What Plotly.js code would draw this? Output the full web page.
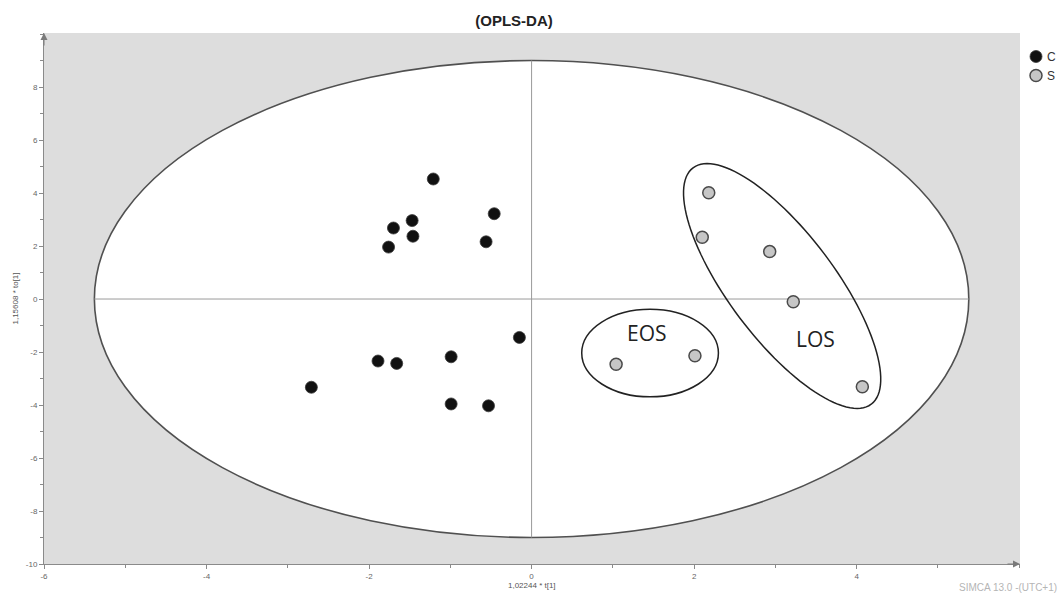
<!DOCTYPE html>
<html><head><meta charset="utf-8">
<script src="https://cdn.plot.ly/plotly-3.0.1.min.js"></script>
<style>html,body{margin:0;padding:0;background:#fff;} #chart{width:1062px;height:594px;}</style>
</head><body><div id="chart"></div>
<script>
// ---- data (scores) ----
const seriesNames = ['C', 'S'];
const classC_t1  = [-1.21, -0.46, -1.47, -1.70, -1.46, -1.76, -0.56, -0.15, -1.89, -1.66, -0.99, -2.71, -0.99, -0.53];
const classC_to1 = [ 4.53,  3.22,  2.96,  2.68,  2.37,  1.96,  2.16, -1.45, -2.34, -2.43, -2.18, -3.33, -3.96, -4.03];
const classS_t1  = [2.18, 2.10, 2.93, 3.22, 4.07, 1.04, 2.01];
const classS_to1 = [4.01, 2.33, 1.79, -0.10, -3.31, -2.46, -2.14];
const xTickVals = [-6, -4, -2, 0, 2, 4];
const yTickVals = [-10, -8, -6, -4, -2, 0, 2, 4, 6, 8];
const groupLabels = ['EOS', 'LOS'];
const hotellingSemiAxes = [5.38, 9.0];   // T2 ellipse (t[1], to[1])

// ---- geometry / styling ----
const X_RANGE = [-6, 6.01], Y_RANGE = [-10, 10.04];
const M = {l: 44, r: 42, t: 33, b: 30};
const W = 1062, H = 594;
const pxX = (W - M.l - M.r) / (X_RANGE[1] - X_RANGE[0]);
const pxY = (H - M.t - M.b) / (Y_RANGE[1] - Y_RANGE[0]);

function ellipsePath(cx, cy, aPx, bPx, angDeg) {
  const th = angDeg * Math.PI / 180, n = 120;
  let d = '';
  for (let i = 0; i <= n; i++) {
    const t = 2 * Math.PI * i / n;
    const u = aPx * Math.cos(t), v = bPx * Math.sin(t);
    const dx = u * Math.cos(th) - v * Math.sin(th);
    const dy = u * Math.sin(th) + v * Math.cos(th);
    const x = cx + dx / pxX, y = cy - dy / pxY;
    d += (i === 0 ? 'M' : 'L') + x.toFixed(4) + ',' + y.toFixed(4);
  }
  return d + 'Z';
}

const [ha, hb] = hotellingSemiAxes;
const shapes = [
  {type: 'circle', xref: 'x', yref: 'y', x0: -ha, x1: ha, y0: -hb, y1: hb,
   fillcolor: '#ffffff', line: {color: '#505050', width: 1.6}, layer: 'below'},
  {type: 'line', xref: 'x', yref: 'y', x0: 0, x1: 0, y0: -hb, y1: hb,
   line: {color: '#9a9a9a', width: 1}, layer: 'below'},
  {type: 'line', xref: 'x', yref: 'y', x0: -ha, x1: ha, y0: 0, y1: 0,
   line: {color: '#9a9a9a', width: 1}, layer: 'below'},
  {type: 'circle', xref: 'x', yref: 'y', x0: 1.458 - 0.841, x1: 1.458 + 0.841, y0: -2.038 - 1.653, y1: -2.038 + 1.653,
   line: {color: '#222', width: 1.5}, layer: 'below'},
  {type: 'path', xref: 'x', yref: 'y', path: ellipsePath(3.083, 0.491, 148, 53, 53),
   line: {color: '#222', width: 1.5}, layer: 'below'}
];

const traces = [
  {x: classC_t1, y: classC_to1, name: seriesNames[0], type: 'scatter', mode: 'markers',
   marker: {size: 12, color: '#111', line: {color: '#3a3a3a', width: 0.8}}, hoverinfo: 'x+y'},
  {x: classS_t1, y: classS_to1, name: seriesNames[1], type: 'scatter', mode: 'markers',
   marker: {size: 12, color: '#c6c6c6', line: {color: '#4a4a4a', width: 1.5}}, hoverinfo: 'x+y'}
];

const axisCommon = {
  showline: true, linecolor: '#8a8a8a', linewidth: 1, showgrid: false, zeroline: false,
  ticks: 'outside', ticklen: 4, tickcolor: '#8a8a8a', tickwidth: 1, automargin: false,
  tickfont: {family: 'Liberation Sans, Arial, sans-serif', size: 8, color: '#666'},
  minor: {dtick: 1, ticks: 'outside', ticklen: 3, tickcolor: '#8a8a8a', showgrid: false},
  fixedrange: true
};

const annFont = {family: 'Liberation Sans, Arial, sans-serif', size: 8, color: '#555'};
const annotations = [
  {text: groupLabels[0], x: 1.415, y: -1.283, xref: 'x', yref: 'y', showarrow: false,
   font: {family: 'Open Sans, sans-serif', size: 21, color: '#222'}},
  {text: groupLabels[1], x: 3.489, y: -1.491, xref: 'x', yref: 'y', showarrow: false,
   font: {family: 'Open Sans, sans-serif', size: 21, color: '#222'}},
  {text: '1,15608 * to[1]', textangle: -90, xref: 'paper', yref: 'paper', x: (15 - M.l) / (W - M.l - M.r), y: 0.5,
   xanchor: 'center', yanchor: 'middle', showarrow: false, font: annFont},
  {text: '1,02244 * t[1]', xref: 'paper', yref: 'paper', x: 0.5, y: -21 / (H - M.t - M.b),
   xanchor: 'center', yanchor: 'middle', showarrow: false, font: annFont},
  {text: 'SIMCA 13.0 -(UTC+1)', xref: 'paper', yref: 'paper', x: (1059 - M.l) / (W - M.l - M.r), y: -23 / (H - M.t - M.b),
   xanchor: 'right', yanchor: 'middle', showarrow: false,
   font: {family: 'Liberation Sans, Arial, sans-serif', size: 10, color: '#b5b5b5'}},
  // axis arrowheads
  {text: '', x: X_RANGE[0], y: Y_RANGE[1], xref: 'x', yref: 'y', showarrow: true, arrowhead: 2, arrowsize: 1.4,
   arrowwidth: 1, arrowcolor: '#7a7a7a', ax: 0, ay: 14, standoff: 0},
  {text: '', x: X_RANGE[1], y: Y_RANGE[0], xref: 'x', yref: 'y', showarrow: true, arrowhead: 2, arrowsize: 1.4,
   arrowwidth: 1, arrowcolor: '#7a7a7a', ax: -14, ay: 0, standoff: 0}
];

const layout = {
  width: W, height: H, autosize: false,
  margin: {l: M.l, r: M.r, t: M.t, b: M.b, pad: 0, autoexpand: false},
  paper_bgcolor: '#ffffff', plot_bgcolor: '#dddddd',
  title: {text: '<b>(OPLS-DA)</b>', x: 514 / W, xanchor: 'center', y: 1 - 21 / H, yanchor: 'middle',
          font: {family: 'Liberation Sans, Arial, sans-serif', size: 15, color: '#222'}},
  xaxis: Object.assign({}, axisCommon, {range: X_RANGE, tickvals: xTickVals, ticktext: xTickVals.map(String)}),
  yaxis: Object.assign({}, axisCommon, {range: Y_RANGE, tickvals: yTickVals, ticktext: yTickVals.map(String)}),
  showlegend: true,
  legend: {xref: 'container', yref: 'container', x: 1016 / W, xanchor: 'left', y: 1 - 42 / H, yanchor: 'top',
           bgcolor: 'rgba(0,0,0,0)', borderwidth: 0, tracegroupgap: 0,
           font: {family: 'Liberation Sans, Arial, sans-serif', size: 12, color: '#333'}},
  shapes: shapes, annotations: annotations
};

Plotly.newPlot('chart', traces, layout, {displayModeBar: false, staticPlot: true}).then(function () {
  document.querySelectorAll('.legendtext').forEach(function (t) { t.setAttribute('x', 31); });
});
</script>
</body></html>
